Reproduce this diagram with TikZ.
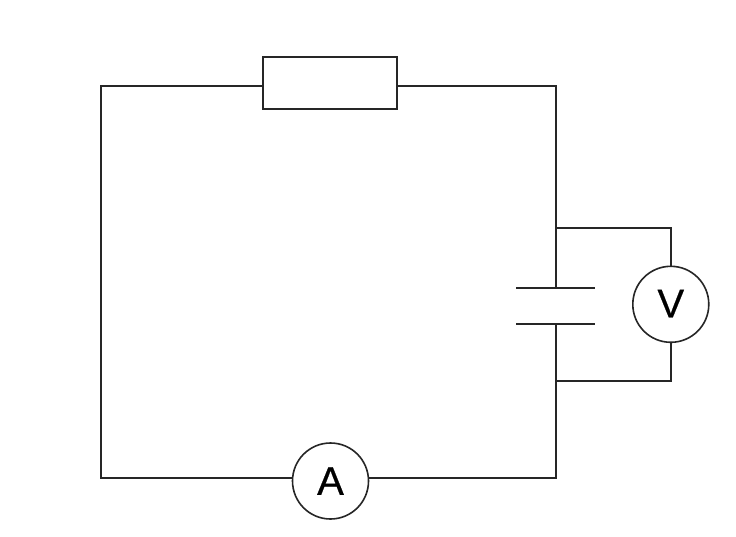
\documentclass[tikz,border=0pt]{standalone}
\usepackage{fontspec}
\setmainfont{Liberation Sans}
\newfontfamily\meterfont{Liberation Sans}[FakeBold=0.5]
\tikzset{
  wire/.style={line width=2pt, black!85, line join=miter},
  meter/.style={circle, draw=black!85, line width=1.6pt, fill=white, minimum size=76pt, inner sep=0pt, font=\meterfont\fontsize{40}{40}\selectfont},
  resistor/.style={rectangle, draw=black!85, line width=2pt, fill=white, minimum width=133.5pt, minimum height=52pt, inner sep=0pt}
}
\begin{document}
\begin{tikzpicture}[x=1pt,y=-1pt]
\useasboundingbox (0,0) rectangle (736,536);
\fill[white] (0,0) rectangle (736,536);
\coordinate (tl) at (101,85.5);
\coordinate (tr) at (556,85.5);
\coordinate (bl) at (101,478);
\coordinate (br) at (556,478);
\coordinate (vt) at (556,228);
\coordinate (vb) at (556,380.5);
\coordinate (vtr) at (670.5,228);
\coordinate (vbr) at (670.5,380.5);
\coordinate (pt) at (556,287.5);
\coordinate (pb) at (556,323.5);
\coordinate (ptl) at (516,287.5);
\coordinate (ptr) at (595,287.5);
\coordinate (pbl) at (516,323.5);
\coordinate (pbr) at (595,323.5);
\node[resistor] (R) at (330,83) {};
\node[meter] (A) at (330.5,481) {A};
\node[meter] (V) at (670.8,304.3) {\raisebox{1.5pt}{V}};
\draw[wire] (R.west |- tl) -- (tl) -- (bl) -- (A.west |- bl);
\draw[wire] (R.east |- tr) -- (tr) -- (pt);
\draw[wire] (pb) -- (br) -- (A.east |- br);
\draw[wire] (vt) -- (vtr) -- (vtr |- V.north);
\draw[wire] (vb) -- (vbr) -- (vbr |- V.south);
\draw[wire] (ptl) -- (ptr);
\draw[wire] (pbl) -- (pbr);
\end{tikzpicture}
\end{document}
